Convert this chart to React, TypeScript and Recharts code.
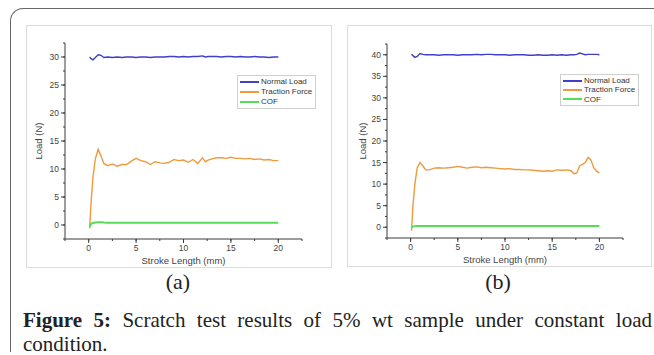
import { LineChart, Line, XAxis, YAxis, Legend } from "recharts";

// stroke length (mm) grid for each sample
const strokeA = [
  0.1, 0.25, 0.45, 0.7, 1.0, 1.3, 1.6, 2, 2.5, 3, 3.5, 4, 4.5, 5, 5.5, 6, 6.5,
  7, 7.5, 8, 8.5, 9, 9.5, 10, 10.5, 11, 11.5, 12, 12.3, 12.6, 13, 13.5, 14,
  14.5, 15, 15.5, 16, 16.5, 17, 17.5, 18, 18.5, 19, 19.5, 20,
];
const normalA = [
  30.0, 29.7, 29.5, 29.9, 30.4, 30.3, 29.9, 30.0, 29.9, 30.0,
  29.9, 30.0, 30.0, 29.9, 30.0, 30.0, 29.9, 30.0, 30.0, 30.0,
  30.1, 30.1, 30.0, 30.1, 30.0, 30.1, 30.1, 30.2, 30.0, 30.1,
  30.1, 30.1, 30.0, 30.1, 30.1, 30.0, 30.1, 30.0, 30.0, 30.1,
  30.0, 30.0, 29.9, 30.0, 30.0,
];
const tractionA = [
  -0.6, 4.0, 8.5, 11.8, 13.5, 12.3, 11.0, 10.6, 10.9, 10.5,
  10.8, 10.8, 11.4, 11.9, 11.5, 11.3, 10.8, 11.3, 11.1, 11.0,
  11.2, 11.7, 11.5, 11.6, 11.2, 11.7, 11.0, 12.0, 11.3, 11.6,
  11.8, 12.0, 12.0, 11.9, 12.1, 11.9, 11.9, 11.8, 11.9, 11.7,
  11.8, 11.6, 11.7, 11.5, 11.5,
];
const cofA = [
  -0.3, 0.2, 0.35, 0.45, 0.5, 0.5, 0.45, 0.4, 0.4, 0.4,
  0.4, 0.4, 0.4, 0.4, 0.4, 0.4, 0.4, 0.4, 0.4, 0.4,
  0.4, 0.4, 0.4, 0.4, 0.4, 0.4, 0.4, 0.4, 0.4, 0.4,
  0.4, 0.4, 0.4, 0.4, 0.4, 0.4, 0.4, 0.4, 0.4, 0.4,
  0.4, 0.4, 0.4, 0.4, 0.4,
];

const strokeB = [
  0.1, 0.25, 0.45, 0.7, 1.0, 1.3, 1.6, 2, 2.5, 3, 3.5, 4, 4.5, 5, 5.5, 6, 6.5,
  7, 7.5, 8, 8.5, 9, 9.5, 10, 10.5, 11, 11.5, 12, 12.5, 13, 13.5, 14, 14.5, 15,
  15.5, 16, 16.5, 17, 17.3, 17.6, 17.9, 18.2, 18.5, 18.8, 19.1, 19.4, 19.7, 20,
];
const normalB = [
  40.1, 39.8, 39.4, 39.6, 40.3, 40.1, 40.0,
  40.0, 40.0, 39.9, 40.0, 40.0, 40.0, 39.9, 40.0, 40.0, 40.0, 40.1, 40.0, 40.1,
  40.1, 40.0, 40.0, 40.0, 39.9, 40.0, 40.0, 40.0, 39.9, 39.9, 40.0, 39.9, 39.9,
  40.0, 39.9, 40.0, 39.9, 40.0,
  40.0, 40.1, 40.4, 40.2, 40.0, 40.1, 40.1, 40.1, 40.1, 40.0,
];
const tractionB = [
  -0.8, 5.0, 10.0, 13.8, 15.0, 14.2, 13.3,
  13.3, 13.7, 13.8, 13.7, 13.8, 13.9, 14.1, 13.9, 13.7, 13.9, 14.0, 13.8, 13.9,
  13.8, 13.7, 13.6, 13.5, 13.6, 13.4, 13.4, 13.3, 13.3, 13.2, 13.1, 13.0, 13.1,
  13.0, 13.3, 13.2, 13.3, 13.1,
  12.4, 12.6, 14.2, 14.6, 15.0, 16.2, 15.6, 13.8, 13.0, 12.6,
];
const cofB = [
  -0.1, 0.2, 0.25, 0.3, 0.3, 0.3, 0.3,
  0.3, 0.3, 0.3, 0.3, 0.3, 0.3, 0.3, 0.3, 0.3, 0.3, 0.3, 0.3, 0.3,
  0.3, 0.3, 0.3, 0.3, 0.3, 0.3, 0.3, 0.3, 0.3, 0.3, 0.3, 0.3, 0.3,
  0.3, 0.3, 0.3, 0.3, 0.3,
  0.3, 0.3, 0.3, 0.3, 0.3, 0.3, 0.3, 0.3, 0.3, 0.3,
];

const seriesNames = ["Normal Load", "Traction Force", "COF"];

// ticks (every 2.5, labels only on multiples of 5)
const xTicks = [-2.5, 0, 2.5, 5, 7.5, 10, 12.5, 15, 17.5, 20, 22.5];
const yTicksA = [-2.5, 0, 2.5, 5, 7.5, 10, 12.5, 15, 17.5, 20, 22.5, 25, 27.5, 30, 32.5];
const yTicksB = [
  -2.5, 0, 2.5, 5, 7.5, 10, 12.5, 15, 17.5, 20, 22.5, 25, 27.5, 30, 32.5, 35,
  37.5, 40, 42.5,
];

const SANS = "'Liberation Sans', Arial, sans-serif";
const SERIF = "'Liberation Serif', 'Times New Roman', serif";
const AXIS = "#3a3a3a";

const YTick = (props: any) => {
  const { x, y, payload } = props;
  const v = payload.value;
  if (v % 5 !== 0) return null;
  const ax = x + 2;
  return (
    <g>
      <line x1={ax} x2={ax - 4} y1={y} y2={y} stroke={AXIS} />
      <text x={ax - 6} y={y} dy="0.35em" textAnchor="end" fontSize={8.5} fill="#444" fontFamily={SANS}>
        {v}
      </text>
    </g>
  );
};

const XTick = (props: any) => {
  const { x, y, payload } = props;
  const v = payload.value;
  if (v % 5 !== 0 || v < 0) return null;
  const ay = y - 2;
  return (
    <g>
      <line x1={x} x2={x} y1={ay} y2={ay + 4} stroke={AXIS} />
      <text x={x} y={ay + 6} dy="0.75em" textAnchor="middle" fontSize={8.5} fill="#444" fontFamily={SANS}>
        {v}
      </text>
    </g>
  );
};

const legendBox = (row: number, lineX: number, textX: number, lineLen: number) => (props: any) => {
  const items = [...(props.payload || [])].sort(
    (a: any, b: any) => seriesNames.indexOf(a.value) - seriesNames.indexOf(b.value)
  );
  return (
    <div
      style={{
        border: "1px solid #cfcfcf",
        background: "#fff",
        padding: "1px 3px 1px 0",
        fontFamily: SANS,
        fontSize: 8,
        color: "#333",
      }}
    >
      {items.map((p: any) => (
        <div key={p.value} style={{ height: row, position: "relative", whiteSpace: "nowrap" }}>
          <span
            style={{
              position: "absolute",
              left: lineX,
              top: row / 2 - 1,
              width: lineLen,
              height: 2,
              background: p.color,
            }}
          />
          <span style={{ marginLeft: textX, lineHeight: `${row}px` }}>{p.value}</span>
        </div>
      ))}
    </div>
  );
};

interface PanelProps {
  left: number;
  top: number;
  width: number;
  height: number;
  stroke: number[];
  normal: number[];
  traction: number[];
  cof: number[];
  yTicks: number[];
  yMax: number;
  yAxisWidth: number;
  marginTop: number;
  marginRight: number;
  yLabelX: number;
  xLabelDy: number;
  legendLeft: number;
  legendTop: number;
  legendRow: number;
}

function Panel(p: PanelProps) {
  const data = p.stroke.map((x, i) => ({
    x,
    normal: p.normal[i],
    traction: p.traction[i],
    cof: p.cof[i],
  }));
  return (
    <div
      style={{
        position: "absolute",
        left: p.left,
        top: p.top,
        width: p.width,
        height: p.height,
        border: "1px solid #dcdcdc",
        boxSizing: "border-box",
        background: "#fff",
      }}
    >
      <div style={{ position: "absolute", left: -1, top: -1 }}>
        <LineChart
          width={p.width}
          height={p.height}
          data={data}
          margin={{ top: p.marginTop, right: p.marginRight, bottom: 0, left: 0 }}
        >
          <XAxis
            dataKey="x"
            type="number"
            domain={[-2.5, 22.5]}
            ticks={xTicks}
            interval={0}
            height={29}
            tickSize={2}
            tickMargin={0}
            stroke={AXIS}
            tick={<XTick />}
            label={{
              content: (lp: any) => {
                const vb = lp.viewBox;
                return (
                  <text
                    x={vb.x + vb.width / 2}
                    y={vb.y + p.xLabelDy}
                    textAnchor="middle"
                    fontSize={9.5}
                    fill="#444"
                    fontFamily={SANS}
                  >
                    Stroke Length (mm)
                  </text>
                );
              },
            }}
          />
          <YAxis
            type="number"
            domain={[-2.5, p.yMax]}
            ticks={p.yTicks}
            interval={0}
            width={p.yAxisWidth}
            tickSize={2}
            tickMargin={0}
            stroke={AXIS}
            tick={<YTick />}
            label={{
              content: (lp: any) => {
                const vb = lp.viewBox;
                const cx = vb.x + p.yLabelX;
                const cy = vb.y + vb.height / 2;
                return (
                  <text
                    x={cx}
                    y={cy}
                    transform={`rotate(-90 ${cx} ${cy})`}
                    textAnchor="middle"
                    dy="0.35em"
                    fontSize={9.5}
                    fill="#444"
                    fontFamily={SANS}
                  >
                    Load (N)
                  </text>
                );
              },
            }}
          />
          <Legend
            layout="vertical"
            align="center"
            verticalAlign="middle"
            wrapperStyle={{ left: p.legendLeft, top: p.legendTop, width: "auto" }}
            content={legendBox(p.legendRow, 2, 23, 19)}
          />
          <Line
            type="linear"
            dataKey="normal"
            name={seriesNames[0]}
            stroke="#3f3fc8"
            strokeWidth={1.4}
            dot={false}
            isAnimationActive={false}
          />
          <Line
            type="linear"
            dataKey="traction"
            name={seriesNames[1]}
            stroke="#ee9a3e"
            strokeWidth={1.4}
            dot={false}
            isAnimationActive={false}
          />
          <Line
            type="linear"
            dataKey="cof"
            name={seriesNames[2]}
            stroke="#55dd55"
            strokeWidth={2}
            dot={false}
            isAnimationActive={false}
          />
        </LineChart>
      </div>
    </div>
  );
}

export default function App() {
  const capStyle = {
    position: "absolute" as const,
    left: 23,
    width: 629,
    fontFamily: SERIF,
    fontSize: 21,
    lineHeight: "24px",
    color: "#222",
    whiteSpace: "nowrap" as const,
  };
  return (
    <div
      style={{
        position: "absolute",
        left: 0,
        top: 0,
        width: 654,
        height: 355,
        overflow: "hidden",
        background: "#fff",
      }}
    >
      <div
        style={{
          position: "absolute",
          left: 10,
          top: 8,
          width: 700,
          height: 343,
          borderTop: "1px solid #666",
          borderLeft: "1px solid #666",
          borderTopLeftRadius: 13,
        }}
      />
      <Panel
        left={26}
        top={25}
        width={306}
        height={243}
        stroke={strokeA}
        normal={normalA}
        traction={tractionA}
        cof={cofA}
        yTicks={yTicksA}
        yMax={32.5}
        yAxisWidth={39}
        marginTop={18}
        marginRight={30}
        yLabelX={12.5}
        xLabelDy={25}
        legendLeft={211}
        legendTop={50}
        legendRow={10}
      />
      <Panel
        left={347}
        top={25}
        width={305}
        height={242}
        stroke={strokeB}
        normal={normalB}
        traction={tractionB}
        cof={cofB}
        yTicks={yTicksB}
        yMax={42.5}
        yAxisWidth={40}
        marginTop={19}
        marginRight={29}
        yLabelX={15.5}
        xLabelDy={25}
        legendLeft={213}
        legendTop={49}
        legendRow={9.3}
      />
      <div
        style={{
          position: "absolute",
          left: 158,
          top: 269,
          width: 40,
          textAlign: "center",
          fontFamily: SERIF,
          fontSize: 22,
          color: "#222",
        }}
      >
        (a)
      </div>
      <div
        style={{
          position: "absolute",
          left: 478,
          top: 269,
          width: 40,
          textAlign: "center",
          fontFamily: SERIF,
          fontSize: 22,
          color: "#222",
        }}
      >
        (b)
      </div>
      <div style={{ ...capStyle, top: 308, whiteSpace: "normal", textAlign: "justify", textAlignLast: "justify" }}>
        <b>Figure 5:</b> Scratch test results of 5% wt sample under constant load
      </div>
      <div style={{ ...capStyle, top: 332 }}>condition.</div>
    </div>
  );
}
